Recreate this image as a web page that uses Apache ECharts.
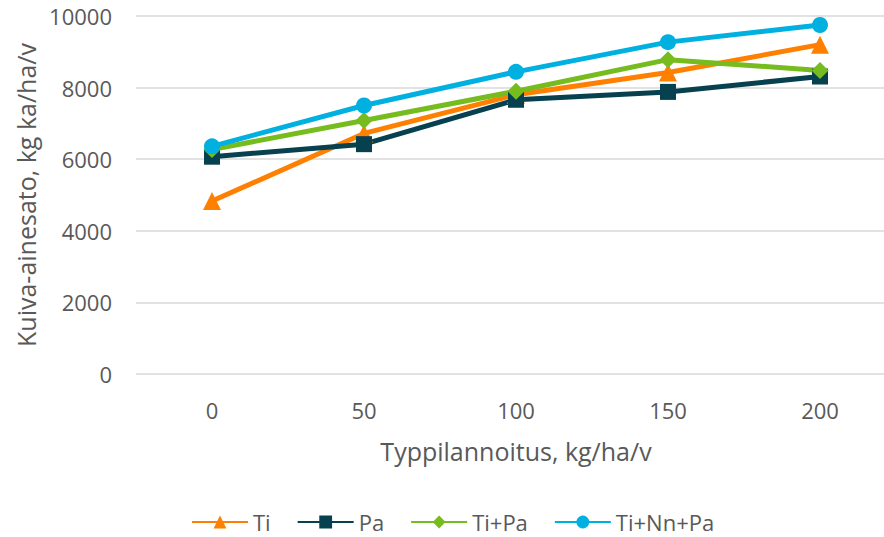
<!DOCTYPE html>
<html>
<head>
<meta charset="utf-8">
<script src="https://cdn.jsdelivr.net/npm/echarts@6/dist/echarts.min.js"></script>
<style>
  html, body { margin: 0; padding: 0; background: #fff; }
  #chart { width: 884px; height: 537px; }
</style>
</head>
<body>
<div id="chart"></div>
<script>
var categories = ['0', '50', '100', '150', '200'];
var ti = [4830, 6720, 7800, 8420, 9200];
var pa = [6070, 6420, 7660, 7880, 8310];
var tiPa = [6270, 7080, 7900, 8780, 8480];
var tiNnPa = [6360, 7500, 8440, 9270, 9750];

var textColor = '#595959';
var font = '"Open Sans", "Noto Sans", sans-serif';

function lineSeries(name, data, color, symbol, size) {
  return {
    name: name,
    type: 'line',
    data: data,
    symbol: symbol,
    symbolSize: size,
    lineStyle: { color: color, width: 5 },
    itemStyle: { color: color },
    z: 2
  };
}

var chart = echarts.init(document.getElementById('chart'), null, { renderer: 'svg' });
chart.setOption({
  animation: false,
  grid: { left: 136, width: 760, top: 16, height: 358, outerBoundsMode: 'none', containLabel: false },
  legend: {
    top: 504,
    left: 186,
    itemWidth: 56,
    itemHeight: 16,
    itemGap: 26,
    textStyle: { color: textColor, fontSize: 22, lineHeight: 26, fontFamily: font },
    data: ['Ti', 'Pa', 'Ti+Pa', 'Ti+Nn+Pa']
  },
  xAxis: {
    type: 'category',
    data: categories,
    boundaryGap: true,
    name: 'Typpilannoitus, kg/ha/v',
    nameLocation: 'middle',
    nameGap: 64,
    nameTextStyle: { color: textColor, fontSize: 25, fontFamily: font },
    axisLine: { show: false },
    axisTick: { show: false },
    axisLabel: { color: textColor, fontSize: 22, fontFamily: font, margin: 25 }
  },
  yAxis: {
    type: 'value',
    min: 0,
    max: 10000,
    interval: 2000,
    name: 'Kuiva-ainesato, kg ka/ha/v',
    nameLocation: 'middle',
    nameGap: 98,
    nameTextStyle: { color: textColor, fontSize: 25, fontFamily: font },
    axisLine: { show: false },
    axisTick: { show: false },
    axisLabel: { color: textColor, fontSize: 22, fontFamily: font, margin: 24, formatter: function(v) { return String(v); } },
    splitLine: { lineStyle: { color: '#d9d9d9', width: 1.5 } }
  },
  series: [
    lineSeries('Ti', ti, '#ff8000', 'triangle', 18),
    lineSeries('Pa', pa, '#07404f', 'rect', 16),
    lineSeries('Ti+Pa', tiPa, '#77bc1f', 'diamond', 17),
    lineSeries('Ti+Nn+Pa', tiNnPa, '#00b0e0', 'circle', 16)
  ]
});
window.addEventListener('resize', function() { chart.resize(); });
</script>
</body>
</html>
